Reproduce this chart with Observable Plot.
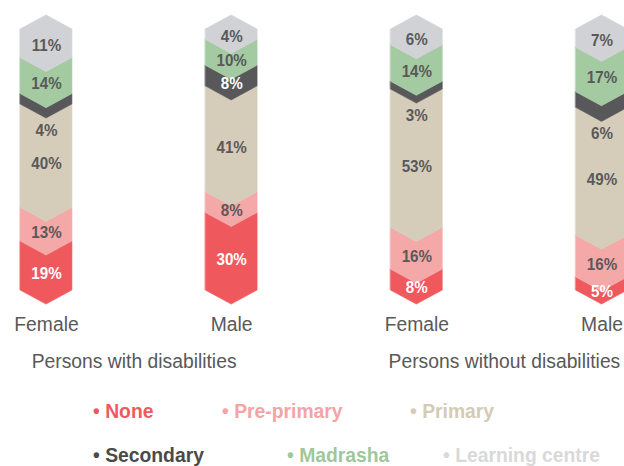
<!DOCTYPE html>
<html>
<head>
<meta charset="utf-8">
<script src="https://cdn.jsdelivr.net/npm/d3@7"></script>
<script src="https://cdn.jsdelivr.net/npm/@observablehq/plot@0.6"></script>
<style>
  html, body { margin: 0; padding: 0; background: #fff; }
  #wrap { width: 624px; font-family: "Liberation Sans", Arial, sans-serif; }
  #legend { position: relative; width: 624px; height: 86px; }
  #legend span { position: absolute; font-weight: bold; font-size: 21px; white-space: nowrap;
                 transform: translateY(-50%) scaleX(0.92); transform-origin: left center; }
</style>
</head>
<body>
<div id="wrap"></div>
<script>
// ---- data ----
const categories = ["Female", "Male", "Female", "Male"];
const groups = ["Persons with disabilities", "Persons without disabilities"];
const levels = ["None", "Pre-primary", "Primary", "Secondary", "Madrasha", "Learning centre"];
const none       = [19, 30, 8, 5];
const prePrimary = [13, 8, 16, 16];
const primary    = [40, 41, 53, 49];
const secondary  = [4, 8, 3, 6];
const madrasha   = [14, 10, 14, 17];
const learning   = [11, 4, 6, 7];
const barColors    = ["#EF585C", "#F4A8A8", "#D5CDB9", "#58585A", "#A4CAA2", "#D1D2D6"];
const legendColors = ["#EE5A5E", "#F5A3A4", "#D3CBB6", "#4A4A4A", "#9FC79C", "#D9D9D9"];

const series = [none, prePrimary, primary, secondary, madrasha, learning];

// ---- build chevron segments ----
const tip = 0.054;   // chevron depth in normalized units
const hw = 0.14;     // half bar width in x units
const areaRows = [];
const labelRows = [];
categories.forEach((cat, i) => {
  const total = d3.sum(series, s => s[i]);
  let cum = 0;
  series.forEach((s, j) => {
    const v = s[i];
    const v0 = cum / total, v1 = (cum + v) / total;
    cum += v;
    const key = i + "-" + j;
    const top = j === series.length - 1;
    areaRows.push({key, level: levels[j], x: i - hw, y1: v0, y2: v1});
    areaRows.push({key, level: levels[j], x: i, y1: v0 - tip, y2: top ? v1 + tip : v1 - tip});
    areaRows.push({key, level: levels[j], x: i + hw, y1: v0, y2: v1});
    const small = levels[j] === "Secondary" && v < 8;
    labelRows.push({
      i, value: v, level: levels[j],
      y: small ? v0 : (v0 + v1) / 2,
      dy: small ? 26 : (top ? 2 : 8),
      white: levels[j] === "None" || (levels[j] === "Secondary" && !small)
    });
  });
});

const catRows = categories.map((c, i) => ({i, c}));
const groupRows = groups.map((g, k) => ({x: k * 2 + 0.5, g}));

const textGrey = "#595959";

const chart = Plot.plot({
  width: 624,
  height: 380,
  style: {fontFamily: "'Liberation Sans', Arial, sans-serif", background: "#fff"},
  x: {domain: [0, 3], range: [46, 601.5], axis: null},
  y: {domain: [0, 1], range: [290, 29], axis: null},
  color: {domain: levels, range: barColors},
  marks: [
    Plot.areaY(areaRows, {x: "x", y1: "y1", y2: "y2", z: "key", fill: "level", stroke: "level", strokeWidth: 0.6, curve: "linear"}),
    ...[2, 8, 26].map(d => Plot.text(labelRows.filter(r => r.dy === d), {
      x: "i", y: "y", dy: d, text: r => r.value + "%",
      fill: r => r.white ? "#ffffff" : textGrey,
      fontWeight: "bold", fontSize: 16.5
    })),
    Plot.text(catRows, {x: "i", y: () => 0, dy: 34, text: "c", fill: textGrey, fontSize: 21}),
    Plot.text(groupRows, {x: "x", y: () => 0, dy: 71, dx: -5, text: "g", fill: textGrey, fontSize: 21})
  ]
});

// horizontal squeeze of text to match the condensed look of the reference
chart.querySelectorAll("text").forEach(el => {
  const t = el.getAttribute("transform") || "";
  if (el.hasAttribute("x")) {
    const x = +el.getAttribute("x");
    el.setAttribute("transform", `${t} translate(${x},0) scale(0.92,1) translate(${-x},0)`);
  } else {
    el.setAttribute("transform", `${t} scale(0.92,1)`);
  }
});

const wrap = document.getElementById("wrap");
wrap.appendChild(chart);

// ---- legend ----
const legend = document.createElement("div");
legend.id = "legend";
const legendPos = [[93, 31], [222, 31], [410, 31], [93, 75], [287, 75], [443, 75]];
levels.forEach((lv, j) => {
  const s = document.createElement("span");
  s.textContent = "\u2022 " + lv;
  s.style.color = legendColors[j];
  s.style.left = legendPos[j][0] + "px";
  s.style.top = legendPos[j][1] + "px";
  legend.appendChild(s);
});
wrap.appendChild(legend);
</script>
</body>
</html>
